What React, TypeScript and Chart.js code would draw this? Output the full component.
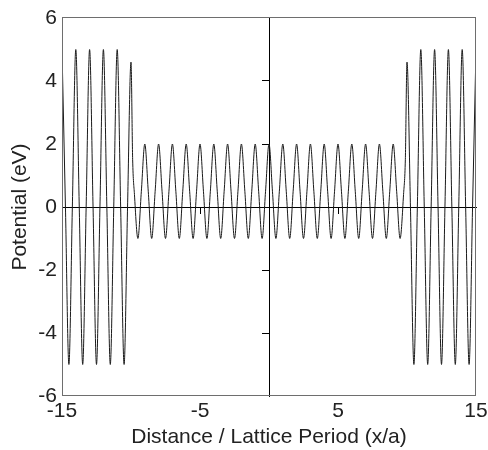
import React, { useEffect, useRef } from 'react';
import { Chart, registerables } from 'chart.js';

Chart.register(...registerables);

// Outer (left) well region: peaks at integers, troughs at half-integers
const outerLeftX = [
  -15, -14.75, -14.5, -14.25, -14, -13.75, -13.5, -13.25, -13, -12.75, -12.5,
  -12.25, -12, -11.75, -11.5, -11.25, -11, -10.75, -10.5, -10.25, -10,
];
const outerLeftY = [
  5, 0, -5, 0, 5, 0, -5, 0, 5, 0, -5,
  0, 5, 0, -5, 0, 5, 0, -5, 0, 4.6,
];

// Inner region: oscillates between -1 and 2
const innerX = [
  -9.88, -9.75, -9.5, -9.25, -9, -8.75, -8.5, -8.25, -8, -7.75, -7.5, -7.25, -7,
  -6.75, -6.5, -6.25, -6, -5.75, -5.5, -5.25, -5, -4.75, -4.5, -4.25, -4,
  -3.75, -3.5, -3.25, -3, -2.75, -2.5, -2.25, -2, -1.75, -1.5, -1.25, -1,
  -0.75, -0.5, -0.25, 0, 0.25, 0.5, 0.75, 1, 1.25, 1.5, 1.75, 2,
  2.25, 2.5, 2.75, 3, 3.25, 3.5, 3.75, 4, 4.25, 4.5, 4.75, 5,
  5.25, 5.5, 5.75, 6, 6.25, 6.5, 6.75, 7, 7.25, 7.5, 7.75, 8,
  8.25, 8.5, 8.75, 9, 9.25, 9.5, 9.75, 9.88,
];
const innerY = [
  1.5, 0.4, -1, 0.5, 2, 0.5, -1, 0.5, 2, 0.5, -1, 0.5, 2,
  0.5, -1, 0.5, 2, 0.5, -1, 0.5, 2, 0.5, -1, 0.5, 2,
  0.5, -1, 0.5, 2, 0.5, -1, 0.5, 2, 0.5, -1, 0.5, 2,
  0.5, -1, 0.5, 2, 0.5, -1, 0.5, 2, 0.5, -1, 0.5, 2,
  0.5, -1, 0.5, 2, 0.5, -1, 0.5, 2, 0.5, -1, 0.5, 2,
  0.5, -1, 0.5, 2, 0.5, -1, 0.5, 2, 0.5, -1, 0.5, 2,
  0.5, -1, 0.5, 2, 0.5, -1, 0.4, 1.5,
];

// Outer (right) well region
const outerRightX = [
  10, 10.25, 10.5, 10.75, 11, 11.25, 11.5, 11.75, 12, 12.25, 12.5,
  12.75, 13, 13.25, 13.5, 13.75, 14, 14.25, 14.5, 14.75, 15,
];
const outerRightY = [
  4.6, 0, -5, 0, 5, 0, -5, 0, 5, 0, -5,
  0, 5, 0, -5, 0, 5, 0, -5, 0, 5,
];

const xTickValues = [-15, -5, 5, 15];
const yTickValues = [-6, -4, -2, 0, 2, 4, 6];
const centerXTickValues = [-5, 5];
const centerYTickValues = [-4, -2, 2, 4];
const xTitle = 'Distance / Lattice Period (x/a)';
const yTitle = 'Potential (eV)';

export default function App() {
  const ref = useRef<HTMLCanvasElement>(null);

  useEffect(() => {
    const canvas = ref.current;
    if (!canvas) return;
    const xs = [...outerLeftX, ...innerX, ...outerRightX];
    const ys = [...outerLeftY, ...innerY, ...outerRightY];
    const points = xs.map((x, i) => ({ x, y: ys[i] }));

    const font = { family: "'Liberation Sans', Arial, Helvetica, sans-serif", size: 21 };
    const textColor = '#222';
    const zeroPad = (s: any) => {
      s.paddingLeft = 0;
      s.paddingRight = 0;
      s.paddingTop = 0;
      s.paddingBottom = 0;
    };
    const ticksFrom = (vals: number[]) => (s: any) => {
      s.ticks = vals.map((v) => ({ value: v }));
    };

    const boxPlugin = {
      id: 'box',
      afterDatasetsDraw(chart: any) {
        const { ctx, chartArea: a } = chart;
        const l = Math.round(a.left);
        const r = Math.round(a.right);
        const t = Math.round(a.top);
        const b = Math.round(a.bottom);
        ctx.save();
        ctx.strokeStyle = '#6e6e6e';
        ctx.lineWidth = 1;
        ctx.strokeRect(l + 0.5, t - 0.5, r - l - 1, b - t);
        ctx.restore();
      },
    };

    const chart = new Chart(canvas, {
      type: 'line',
      data: {
        datasets: [
          {
            data: points,
            borderColor: '#1a1a1a',
            borderWidth: 1,
            pointRadius: 0,
            fill: false,
            cubicInterpolationMode: 'monotone',
          },
        ],
      },
      options: {
        animation: false,
        responsive: false,
        devicePixelRatio: 1,
        layout: { padding: { left: 0, top: 18, right: 12, bottom: 0 } },
        plugins: { legend: { display: false }, tooltip: { enabled: false } },
        scales: {
          x: {
            type: 'linear',
            position: 'bottom',
            min: -15,
            max: 15,
            grid: { display: false, drawTicks: false },
            border: { display: false },
            ticks: { font, color: textColor, padding: 3, maxRotation: 0, autoSkip: false },
            title: { display: true, text: xTitle, font, color: textColor, padding: { top: 0, bottom: 0 } },
            afterBuildTicks: ticksFrom(xTickValues),
            afterFit: (s: any) => {
              s.height = 54;
              zeroPad(s);
            },
          },
          y: {
            type: 'linear',
            position: 'left',
            min: -6,
            max: 6,
            grid: { display: false, drawTicks: false },
            border: { display: false },
            ticks: { font, color: textColor, padding: 5, autoSkip: false },
            title: { display: true, text: yTitle, font, color: textColor, padding: { top: 8, bottom: 0 } },
            afterBuildTicks: ticksFrom(yTickValues),
            afterFit: (s: any) => {
              s.width = 62;
              zeroPad(s);
            },
          },
          x2: {
            type: 'linear',
            axis: 'x',
            position: { y: 0 },
            min: -15,
            max: 15,
            grid: { display: true, drawOnChartArea: false, drawTicks: true, tickLength: 6, color: '#000', lineWidth: 1 },
            border: { display: true, color: '#000', width: 1 },
            ticks: { display: false },
            afterBuildTicks: ticksFrom(centerXTickValues),
            afterFit: zeroPad,
          },
          y2: {
            type: 'linear',
            axis: 'y',
            position: { x: 0 },
            min: -6,
            max: 6,
            grid: { display: true, drawOnChartArea: false, drawTicks: true, tickLength: 7, color: '#000', lineWidth: 1 },
            border: { display: true, color: '#000', width: 1 },
            ticks: { display: false },
            afterBuildTicks: ticksFrom(centerYTickValues),
            afterFit: zeroPad,
          },
        },
      } as any,
      plugins: [boxPlugin],
    });

    return () => chart.destroy();
  }, []);

  return (
    <div style={{ position: 'absolute', left: 0, top: 0, width: 488, height: 450, background: '#fff' }}>
      <canvas ref={ref} width={488} height={450} style={{ display: 'block' }} />
    </div>
  );
}
